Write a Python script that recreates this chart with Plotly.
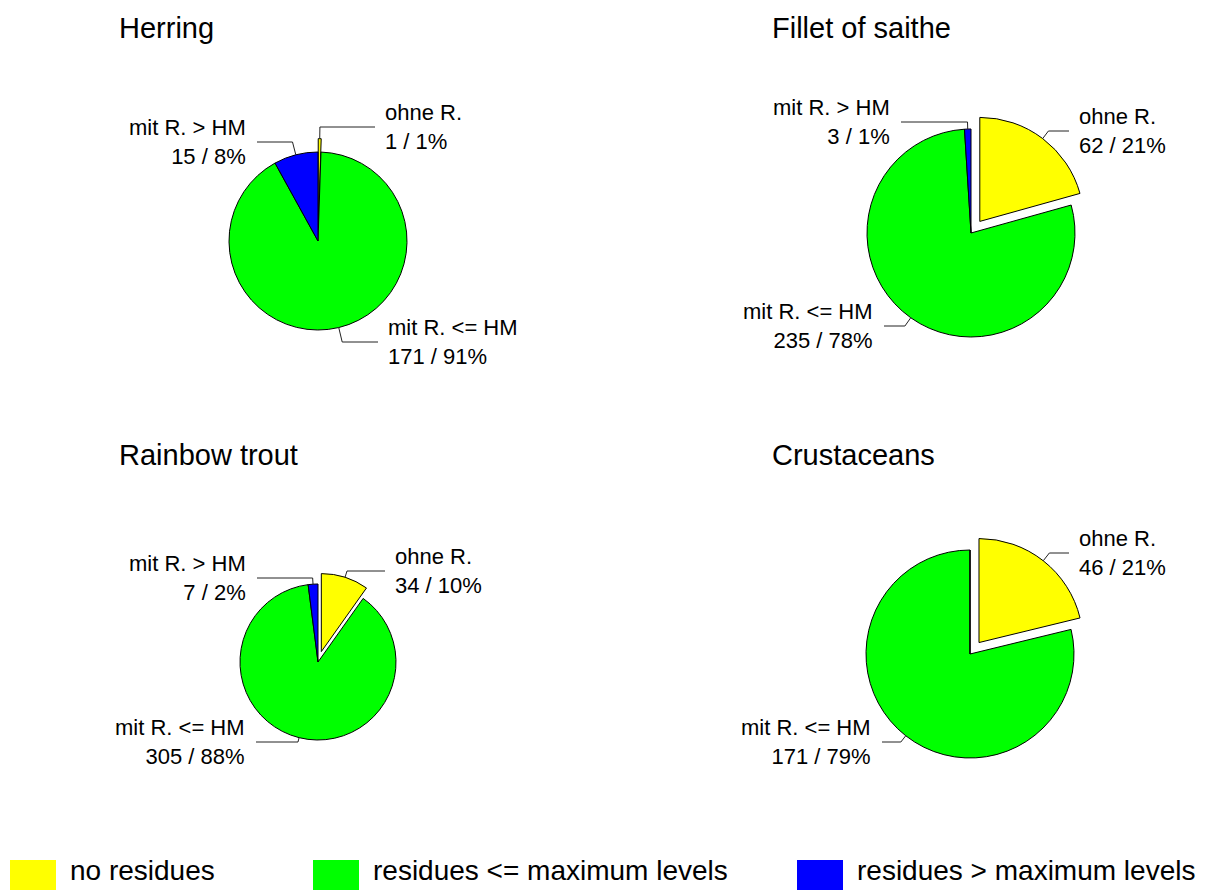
import math
import plotly.graph_objects as go

W, H = 1216, 890

# ---------------- data ----------------
categories = ["ohne R.", "mit R. &lt;= HM", "mit R. &gt; HM"]
legend_labels = ["no residues", "residues &lt;= maximum levels", "residues &gt; maximum levels"]
colors = ["#FFFF00", "#00FF00", "#0000FF"]
titles = ["Herring", "Fillet of saithe", "Rainbow trout", "Crustaceans"]
herring = [1, 171, 15]
saithe = [62, 235, 3]
trout = [34, 305, 7]
crustaceans = [46, 171, 0]
series = [herring, saithe, trout, crustaceans]

# ---------------- layout (pixels) ----------------
FONT = "Liberation Sans, Arial, sans-serif"
pie_geom = [  # cx, cy, r, pull of first slice
    (318, 241, 89, 0.15),
    (971, 233, 104, 0.14),
    (318, 662, 78, 0.14),
    (970, 654, 104, 0.14),
]
title_pos = [(117, 28), (770, 28), (117, 455), (770, 455)]
# per slice: (side, text_x, line_y) or None
label_pos = [
    [("r", 383, 127), ("r", 386, 342), ("l", 248, 142)],
    [("r", 1077, 131), ("l", 875, 326), ("l", 892, 122)],
    [("r", 393, 571), ("l", 247, 742), ("l", 248, 578)],
    [("r", 1077, 553), ("l", 873, 742), None],
]
legend_x = [10, 313, 797]


def px(x):
    return x / W


def py(y):
    return 1 - y / H


fig = go.Figure()
shapes = []
annotations = []

for k, vals in enumerate(series):
    cx, cy, r, pull = pie_geom[k]
    s = r * (1 + pull)
    pulls = [pull, 0, 0]
    fig.add_trace(go.Pie(
        values=vals,
        labels=[legend_labels[i] for i in range(3)],
        marker=dict(colors=colors, line=dict(color="#000000", width=1)),
        sort=False, direction="clockwise", rotation=0,
        pull=pulls, textinfo="none", hoverinfo="label+value+percent",
        domain=dict(x=[px(cx - s), px(cx + s)], y=[py(cy + s), py(cy - s)]),
        showlegend=False,
    ))
    total = sum(vals)
    cum = 0
    for i, v in enumerate(vals):
        lp = label_pos[k][i]
        if lp is not None and v > 0:
            side, tx, ly = lp
            a = (cum + v / 2) / total * 2 * math.pi
            dx, dy = math.sin(a), -math.cos(a)
            ox = cx + pulls[i] * r * dx
            oy = cy + pulls[i] * r * dy
            ex, ey = ox + r * dx, oy + r * dy
            t = (ly - ey) / dy if abs(dy) > 1e-6 else 0
            t = max(t, 0)
            bx, by = ex + t * dx, ly
            endx = tx - 8 if side == "r" else tx + 9
            path = f"M {px(ex)},{py(ey)} L {px(bx)},{py(by)} L {px(endx)},{py(by)}"
            shapes.append(dict(type="path", xref="paper", yref="paper", path=path,
                               line=dict(color="#222222", width=1)))
            pct = round(100 * v / total)
            annotations.append(dict(
                x=px(tx), y=py(ly), xref="paper", yref="paper",
                xanchor="left" if side == "r" else "right", yanchor="middle",
                align="left" if side == "r" else "right",
                text=f"{categories[i]}<br>{v} / {pct}%", showarrow=False,
                font=dict(family=FONT, size=22, color="#000000")))
        cum += v
    annotations.append(dict(
        x=px(title_pos[k][0]), y=py(title_pos[k][1]), xref="paper", yref="paper",
        xanchor="left", yanchor="middle", text=titles[k], showarrow=False,
        font=dict(family=FONT, size=29, color="#000000")))

for i, lab in enumerate(legend_labels):
    x0 = legend_x[i]
    shapes.append(dict(type="rect", xref="paper", yref="paper",
                       x0=px(x0), x1=px(x0 + 46), y0=py(860), y1=py(890),
                       fillcolor=colors[i], line=dict(width=0)))
    annotations.append(dict(
        x=px(x0 + 58), y=py(870), xref="paper", yref="paper",
        xanchor="left", yanchor="middle", text=lab, showarrow=False,
        font=dict(family=FONT, size=28, color="#000000")))

fig.update_layout(
    width=W, height=H,
    margin=dict(l=0, r=0, t=0, b=0),
    paper_bgcolor="#FFFFFF", plot_bgcolor="#FFFFFF",
    shapes=shapes, annotations=annotations,
    showlegend=False,
)

fig.write_html("out.html")
